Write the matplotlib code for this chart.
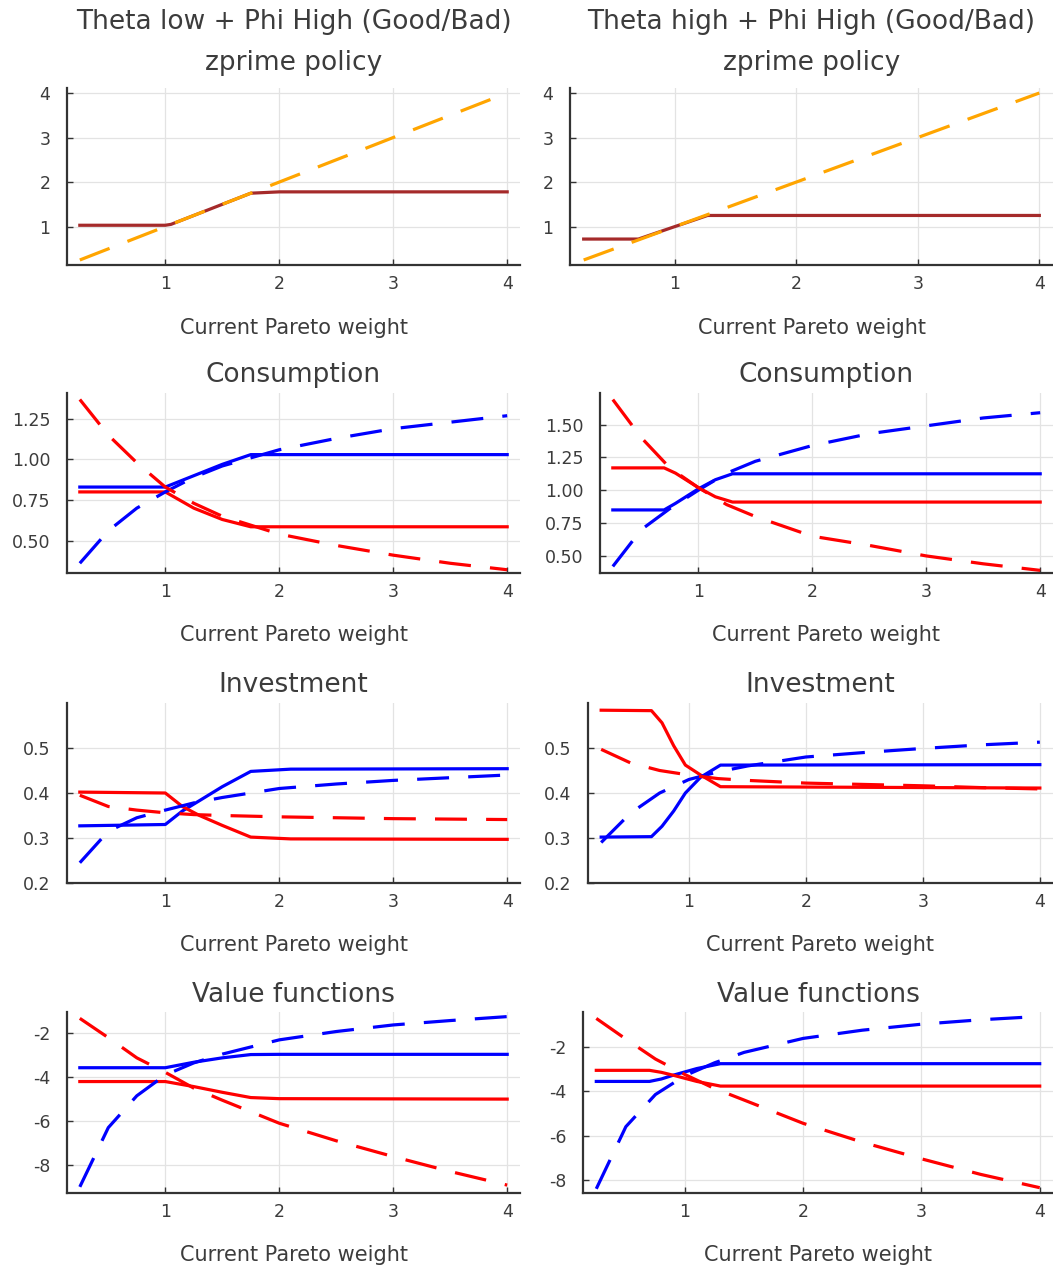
import matplotlib
matplotlib.use("Agg")
import matplotlib.pyplot as plt

# common grid for the smooth (dashed) curves
xGrid = [0.25, 0.5, 0.75, 1.0, 1.25, 1.5, 2.0, 2.5, 3.0, 3.5, 4.0]

# zprime policy
diagX = [0.25, 4.0]
diagY = [0.25, 4.0]
zpLowX = [0.25, 1.0, 1.05, 1.5, 1.75, 2.0, 4.0]
zpLowY = [1.03, 1.03, 1.05, 1.5, 1.75, 1.78, 1.78]
zpHighX = [0.25, 0.7, 1.0, 1.27, 4.0]
zpHighY = [0.72, 0.72, 1.0, 1.25, 1.25]

# consumption
consLowBlueDash = [0.36, 0.56, 0.70, 0.80, 0.89, 0.96, 1.06, 1.13, 1.19, 1.23, 1.27]
consLowRedDash = [1.37, 1.15, 0.98, 0.83, 0.73, 0.65, 0.54, 0.47, 0.41, 0.36, 0.32]
consLowX = [0.25, 1.0, 1.25, 1.5, 1.75, 4.0]
consLowBlue = [0.83, 0.83, 0.90, 0.97, 1.03, 1.03]
consLowRed = [0.80, 0.80, 0.70, 0.63, 0.585, 0.585]

consHighBlueDash = [0.42, 0.70, 0.86, 1.00, 1.13, 1.22, 1.34, 1.43, 1.49, 1.55, 1.59]
consHighRedDash = [1.69, 1.40, 1.17, 1.02, 0.89, 0.80, 0.65, 0.58, 0.50, 0.44, 0.39]
consHighX = [0.25, 0.7, 0.8, 1.0, 1.15, 1.3, 4.0]
consHighBlue = [0.85, 0.85, 0.90, 1.01, 1.08, 1.125, 1.125]
consHighRed = [1.17, 1.17, 1.13, 1.02, 0.95, 0.91, 0.91]

# investment
invLowBlueDash = [0.245, 0.315, 0.345, 0.362, 0.378, 0.39, 0.41, 0.42, 0.428, 0.434, 0.44]
invLowRedDash = [0.395, 0.37, 0.362, 0.356, 0.352, 0.35, 0.347, 0.345, 0.343, 0.342, 0.341]
invLowX = [0.25, 1.0, 1.15, 1.3, 1.5, 1.75, 2.1, 4.0]
invLowBlue = [0.327, 0.33, 0.36, 0.383, 0.414, 0.448, 0.453, 0.454]
invLowRed = [0.402, 0.40, 0.37, 0.35, 0.328, 0.302, 0.298, 0.297]

invHighBlueDash = [0.29, 0.355, 0.40, 0.43, 0.447, 0.46, 0.48, 0.49, 0.499, 0.507, 0.513]
invHighRedDash = [0.497, 0.467, 0.45, 0.44, 0.432, 0.428, 0.422, 0.419, 0.416, 0.412, 0.409]
invHighX = [0.25, 0.68, 0.77, 0.87, 0.97, 1.1, 1.27, 4.0]
invHighBlue = [0.302, 0.303, 0.326, 0.36, 0.40, 0.435, 0.462, 0.463]
invHighRed = [0.584, 0.583, 0.556, 0.505, 0.462, 0.44, 0.414, 0.411]

# value functions
valLowBlueDash = [-9.0, -6.3, -4.85, -3.9, -3.35, -2.95, -2.3, -1.92, -1.62, -1.42, -1.24]
valLowRedDash = [-1.32, -2.2, -3.12, -3.78, -4.5, -5.05, -6.1, -6.9, -7.62, -8.3, -8.92]
valLowX = [0.25, 1.0, 1.25, 1.5, 1.75, 2.0, 4.0]
valLowBlue = [-3.57, -3.57, -3.32, -3.12, -2.97, -2.96, -2.96]
valLowRed = [-4.2, -4.2, -4.43, -4.69, -4.93, -4.98, -5.0]

valHighBlueDash = [-8.4, -5.6, -4.15, -3.3, -2.72, -2.25, -1.62, -1.25, -0.98, -0.78, -0.63]
valHighRedDash = [-0.72, -1.65, -2.55, -3.25, -3.88, -4.4, -5.45, -6.3, -7.05, -7.75, -8.35]
valHighX = [0.25, 0.7, 0.8, 0.9, 1.1, 1.3, 4.0]
valHighBlue = [-3.56, -3.56, -3.45, -3.28, -2.98, -2.76, -2.76]
valHighRed = [-3.06, -3.06, -3.15, -3.28, -3.56, -3.77, -3.77]

xTicks = [1, 2, 3, 4]
W, H = 1053, 1270
TEXT = "#3c3c3c"
DASH = (0, (10, 6))
LW = 2.3

plt.rcParams["font.family"] = ["DejaVu Sans"]
fig = plt.figure(figsize=(W / 100, H / 100), dpi=100)


def makeAxes(left, right, top, bottom, ylim, yticks, ylabels):
    ax = fig.add_axes([left / W, 1 - bottom / H, (right - left) / W, (bottom - top) / H])
    ax.set_xlim(0.1375, 4.1125)
    ax.set_ylim(*ylim)
    ax.set_xticks(xTicks)
    ax.set_xticklabels([str(t) for t in xTicks])
    ax.set_yticks(yticks)
    ax.set_yticklabels(ylabels)
    for side in ("top", "right"):
        ax.spines[side].set_visible(False)
    for side in ("left", "bottom"):
        ax.spines[side].set_color("#333333")
        ax.spines[side].set_linewidth(1.6)
    ax.tick_params(axis="both", direction="in", length=4, width=1, color="#333333",
                   labelcolor=TEXT, labelsize=12.5)
    ax.tick_params(axis="x", pad=7)
    ax.tick_params(axis="y", pad=12)
    ax.grid(True, color="#e3e3e3", linewidth=0.9)
    ax.set_axisbelow(True)
    centre = (left + right) / 2
    return ax, centre


def figText(xPx, yPx, text, size):
    fig.text(xPx / W, 1 - yPx / H, text, ha="center", va="center", fontsize=size, color=TEXT)


# ---- row 1: zprime policy
for left, right, zpX, zpY, head in [
        (67, 520, zpLowX, zpLowY, "Theta low + Phi High (Good/Bad)"),
        (570, 1053, zpHighX, zpHighY, "Theta high + Phi High (Good/Bad)")]:
    ax, c = makeAxes(left, right, 88, 265, (0.1375, 4.1125),
                     [1, 2, 3, 4], ["1", "2", "3", "4"])
    ax.plot(zpX, zpY, color="#a52a2a", lw=LW)
    ax.plot(diagX, diagY, color="#ffa500", lw=LW, linestyle=DASH)
    figText(c, 22, head, 19)
    figText(c, 63, "zprime policy", 19)
    figText(c, 328, "Current Pareto weight", 15)

# ---- rows 2-4
rows = [
    ("Consumption", 393, 573, 375, 635,
     [(67, 520, (0.30, 1.41), [0.5, 0.75, 1.0, 1.25], ["0.50", "0.75", "1.00", "1.25"],
       consLowX, consLowBlue, consLowRed, consLowBlueDash, consLowRedDash),
      (600, 1053, (0.37, 1.74), [0.5, 0.75, 1.0, 1.25, 1.5], ["0.50", "0.75", "1.00", "1.25", "1.50"],
       consHighX, consHighBlue, consHighRed, consHighBlueDash, consHighRedDash)]),
    ("Investment", 703, 883, 685, 945,
     [(67, 520, (0.2, 0.6), [0.2, 0.3, 0.4, 0.5], ["0.2", "0.3", "0.4", "0.5"],
       invLowX, invLowBlue, invLowRed, invLowBlueDash, invLowRedDash),
      (588, 1053, (0.2, 0.6), [0.2, 0.3, 0.4, 0.5], ["0.2", "0.3", "0.4", "0.5"],
       invHighX, invHighBlue, invHighRed, invHighBlueDash, invHighRedDash)]),
    ("Value functions", 1012, 1193, 995, 1255,
     [(67, 520, (-9.28, -1.03), [-8, -6, -4, -2], ["-8", "-6", "-4", "-2"],
       valLowX, valLowBlue, valLowRed, valLowBlueDash, valLowRedDash),
      (583, 1053, (-8.59, -0.43), [-8, -6, -4, -2], ["-8", "-6", "-4", "-2"],
       valHighX, valHighBlue, valHighRed, valHighBlueDash, valHighRedDash)]),
]

for title, top, bottom, titleY, labelY, panels in rows:
    for left, right, ylim, yticks, ylabels, sx, blue, red, blueDash, redDash in panels:
        ax, c = makeAxes(left, right, top, bottom, ylim, yticks, ylabels)
        ax.plot(sx, blue, color="#0000ff", lw=LW)
        ax.plot(sx, red, color="#ff0000", lw=LW)
        ax.plot(xGrid, blueDash, color="#0000ff", lw=LW, linestyle=DASH)
        ax.plot(xGrid, redDash, color="#ff0000", lw=LW, linestyle=DASH)
        figText(c, titleY, title, 19)
        figText(c, labelY, "Current Pareto weight", 15)

fig.savefig("out.png", dpi=100, facecolor="white")
